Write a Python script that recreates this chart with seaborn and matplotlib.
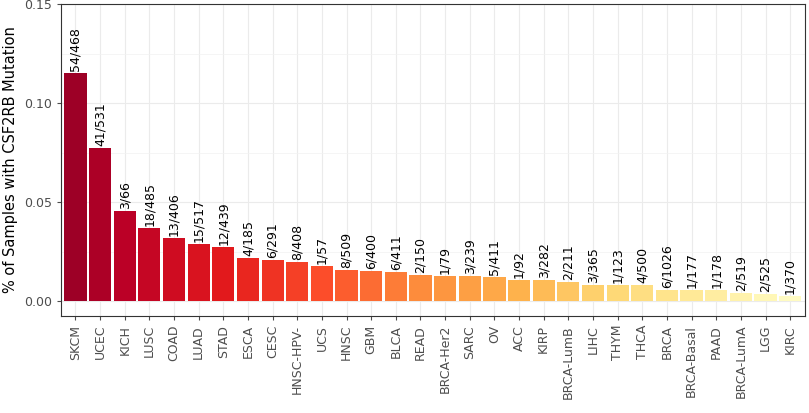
import matplotlib
matplotlib.use("Agg")
import matplotlib.pyplot as plt
import numpy as np
import pandas as pd
import seaborn as sns

cancers = ["SKCM", "UCEC", "KICH", "LUSC", "COAD", "LUAD", "STAD", "ESCA", "CESC",
           "HNSC-HPV-", "UCS", "HNSC", "GBM", "BLCA", "READ", "BRCA-Her2", "SARC", "OV",
           "ACC", "KIRP", "BRCA-LumB", "LIHC", "THYM", "THCA", "BRCA", "BRCA-Basal",
           "PAAD", "BRCA-LumA", "LGG", "KIRC"]
mutated = [54, 41, 3, 18, 13, 15, 12, 4, 6, 8, 1, 8, 6, 6, 2, 1, 3, 5, 1, 3, 2, 3, 1, 4, 6, 1, 1, 2, 2, 1]
totals = [468, 531, 66, 485, 406, 517, 439, 185, 291, 408, 57, 509, 400, 411, 150, 79, 239,
          411, 92, 282, 211, 365, 123, 500, 1026, 177, 178, 519, 525, 370]

df = pd.DataFrame({"cancer": cancers, "n": mutated, "total": totals})
df["pct"] = df["n"] / df["total"]
df["label"] = [f"{a}/{b}" for a, b in zip(mutated, totals)]

colors = sns.color_palette("YlOrRd_r", as_cmap=True)(np.linspace(0.06, 0.97, len(df)))

fig, ax = plt.subplots(figsize=(8.09, 4.13), dpi=100)
sns.barplot(data=df, x="cancer", y="pct", hue="cancer", palette=list(colors),
            legend=False, width=0.9, saturation=1, ax=ax)
for i, (v, lab) in enumerate(zip(df["pct"], df["label"])):
    ax.text(i, v + 0.001, lab, rotation=90, ha="center", va="bottom", fontsize=9)

ax.set_ylim(-0.0075, 0.15)
ax.set_xlim(-0.6, len(df) - 0.4)
ax.set_yticks([0.0, 0.05, 0.10, 0.15])
ax.set_yticks([0.025, 0.075, 0.125], minor=True)
ax.set_yticklabels(["0.00", "0.05", "0.10", "0.15"])
ax.set_xlabel("")
ax.set_ylabel("% of Samples with CSF2RB Mutation", fontsize=10.5)
ax.tick_params(axis="x", rotation=90, labelsize=9, colors="#4d4d4d", length=3)
ax.tick_params(axis="y", labelsize=9, colors="#4d4d4d", length=3)
ax.tick_params(axis="y", which="minor", length=0)
ax.grid(color="#ebebeb", linewidth=0.8)
ax.grid(axis="y", which="minor", color="#f2f2f2", linewidth=0.5)
ax.set_axisbelow(True)
for s in ax.spines.values():
    s.set_color("#333333")
    s.set_linewidth(0.8)

fig.subplots_adjust(left=0.075, right=0.995, top=0.99, bottom=0.235)
fig.savefig("out.png", dpi=100)
